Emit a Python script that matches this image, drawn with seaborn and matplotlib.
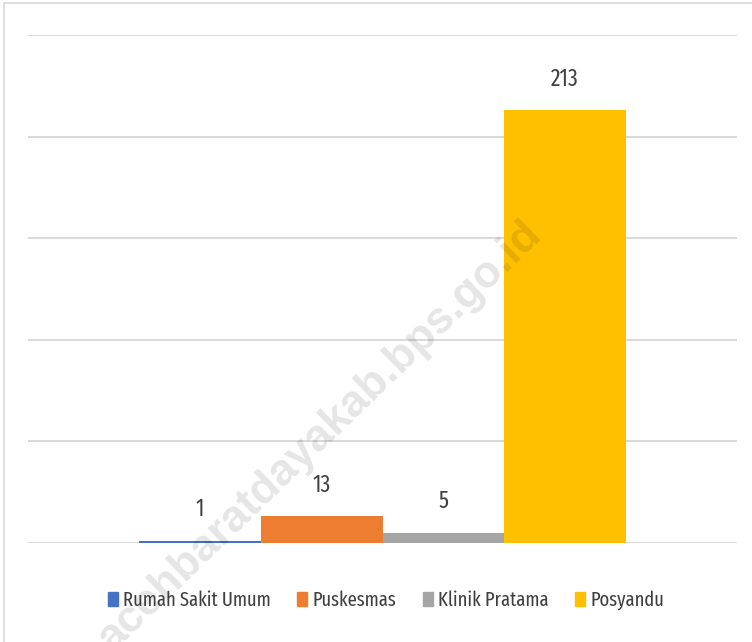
import matplotlib
matplotlib.use("Agg")
import matplotlib.pyplot as plt
import seaborn as sns
import pandas as pd
from matplotlib.lines import Line2D

categories = ["Rumah Sakit Umum", "Puskesmas", "Klinik Pratama", "Posyandu"]
values = [1, 13, 5, 213]
colors = ["#4472C4", "#ED7D31", "#A5A5A5", "#FFC000"]
group = ["Fasilitas"] * len(categories)
watermark = "acehbaratdayakab.bps.go.id"

sns.set_theme(style="white")
plt.rcParams["font.family"] = ["Fira Sans Extra Condensed", "Liberation Sans", "DejaVu Sans"]

df = pd.DataFrame({"grp": group, "jenis": categories, "nilai": values})

fig = plt.figure(figsize=(7.52, 6.42), dpi=100)
ax = fig.add_axes([28 / 752, 1 - 542.7 / 642, (737 - 28) / 752, (542.7 - 35) / 642])

sns.barplot(data=df, x="grp", y="nilai", hue="jenis", hue_order=categories,
            palette=colors, width=0.687, dodge=True, gap=0, saturation=1,
            linewidth=0, ax=ax, legend=False)

ax.set_ylim(0, 250)
ax.set_xlim(-0.5, 0.5)
ax.set_yticks(range(0, 251, 50))
ax.yaxis.grid(True, color="#D9D9D9", linewidth=1.4)
ax.set_axisbelow(True)
ax.tick_params(left=False, bottom=False, labelleft=False, labelbottom=False)
for s in ax.spines.values():
    s.set_visible(False)
ax.set_xlabel("")
ax.set_ylabel("")

for cont in ax.containers:
    ax.bar_label(cont, labels=[f"{v:g}" for v in cont.datavalues], padding=14,
                 fontsize=17, color="#404040")

handles = [plt.Rectangle((0, 0), 1, 1, color=c) for c in colors]
fig.legend(handles, categories, loc="center", bbox_to_anchor=(386 / 752, 1 - 600 / 642),
           ncol=4, frameon=False, fontsize=14.5, handlelength=0.49, handleheight=0.69,
           handletextpad=0.25, columnspacing=1.33, labelcolor="#404040")

# watermark
fig.text(320 / 752, 1 - 436 / 642, watermark, rotation=44,
         fontsize=32, fontweight="bold", color="#000000", alpha=0.1,
         ha="center", va="center", family=["Liberation Sans", "DejaVu Sans"],
         rotation_mode="anchor")

# frame border (left and top)
fig.add_artist(Line2D([4 / 752, 4 / 752], [0, 1 - 3 / 642], transform=fig.transFigure,
                      color="#D9D9D9", linewidth=1.2))
fig.add_artist(Line2D([4 / 752, 1], [1 - 3 / 642, 1 - 3 / 642], transform=fig.transFigure,
                      color="#D9D9D9", linewidth=1.2))

fig.savefig("out.png", dpi=100)
